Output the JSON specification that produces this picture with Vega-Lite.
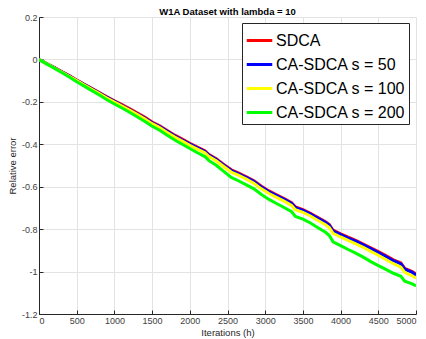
{
  "$schema": "https://vega.github.io/schema/vega-lite/v6.json",
  "width": 377,
  "height": 297,
  "autosize": {"type": "none"},
  "padding": {"left": 39, "top": 17, "right": 10, "bottom": 25},
  "background": "white",
  "title": {"text": "W1A Dataset with lambda = 10", "fontSize": 9.5, "font": "Liberation Sans", "fontWeight": "bold", "color": "#000000", "anchor": "middle", "offset": -3},
  "data": {"values": [
    {"x": 0, "SDCA": 0, "CA-SDCA s = 50": 0, "CA-SDCA s = 100": 0, "CA-SDCA s = 200": 0},
    {"x": 100, "SDCA": -0.019, "CA-SDCA s = 50": -0.019, "CA-SDCA s = 100": -0.02, "CA-SDCA s = 200": -0.021},
    {"x": 200, "SDCA": -0.037, "CA-SDCA s = 50": -0.038, "CA-SDCA s = 100": -0.039, "CA-SDCA s = 200": -0.041},
    {"x": 300, "SDCA": -0.057, "CA-SDCA s = 50": -0.058, "CA-SDCA s = 100": -0.059, "CA-SDCA s = 200": -0.062},
    {"x": 400, "SDCA": -0.076, "CA-SDCA s = 50": -0.077, "CA-SDCA s = 100": -0.079, "CA-SDCA s = 200": -0.083},
    {"x": 500, "SDCA": -0.097, "CA-SDCA s = 50": -0.099, "CA-SDCA s = 100": -0.1, "CA-SDCA s = 200": -0.105},
    {"x": 600, "SDCA": -0.117, "CA-SDCA s = 50": -0.119, "CA-SDCA s = 100": -0.121, "CA-SDCA s = 200": -0.126},
    {"x": 700, "SDCA": -0.136, "CA-SDCA s = 50": -0.139, "CA-SDCA s = 100": -0.141, "CA-SDCA s = 200": -0.147},
    {"x": 800, "SDCA": -0.156, "CA-SDCA s = 50": -0.159, "CA-SDCA s = 100": -0.161, "CA-SDCA s = 200": -0.168},
    {"x": 900, "SDCA": -0.176, "CA-SDCA s = 50": -0.179, "CA-SDCA s = 100": -0.182, "CA-SDCA s = 200": -0.19},
    {"x": 1000, "SDCA": -0.195, "CA-SDCA s = 50": -0.198, "CA-SDCA s = 100": -0.201, "CA-SDCA s = 200": -0.21},
    {"x": 1100, "SDCA": -0.213, "CA-SDCA s = 50": -0.217, "CA-SDCA s = 100": -0.22, "CA-SDCA s = 200": -0.229},
    {"x": 1200, "SDCA": -0.232, "CA-SDCA s = 50": -0.236, "CA-SDCA s = 100": -0.239, "CA-SDCA s = 200": -0.249},
    {"x": 1300, "SDCA": -0.252, "CA-SDCA s = 50": -0.256, "CA-SDCA s = 100": -0.259, "CA-SDCA s = 200": -0.27},
    {"x": 1400, "SDCA": -0.272, "CA-SDCA s = 50": -0.276, "CA-SDCA s = 100": -0.28, "CA-SDCA s = 200": -0.291},
    {"x": 1500, "SDCA": -0.295, "CA-SDCA s = 50": -0.299, "CA-SDCA s = 100": -0.303, "CA-SDCA s = 200": -0.315},
    {"x": 1600, "SDCA": -0.313, "CA-SDCA s = 50": -0.317, "CA-SDCA s = 100": -0.321, "CA-SDCA s = 200": -0.334},
    {"x": 1700, "SDCA": -0.335, "CA-SDCA s = 50": -0.339, "CA-SDCA s = 100": -0.344, "CA-SDCA s = 200": -0.357},
    {"x": 1800, "SDCA": -0.357, "CA-SDCA s = 50": -0.361, "CA-SDCA s = 100": -0.366, "CA-SDCA s = 200": -0.38},
    {"x": 1900, "SDCA": -0.376, "CA-SDCA s = 50": -0.38, "CA-SDCA s = 100": -0.385, "CA-SDCA s = 200": -0.4},
    {"x": 2000, "SDCA": -0.395, "CA-SDCA s = 50": -0.399, "CA-SDCA s = 100": -0.405, "CA-SDCA s = 200": -0.42},
    {"x": 2100, "SDCA": -0.413, "CA-SDCA s = 50": -0.417, "CA-SDCA s = 100": -0.423, "CA-SDCA s = 200": -0.44},
    {"x": 2200, "SDCA": -0.43, "CA-SDCA s = 50": -0.434, "CA-SDCA s = 100": -0.44, "CA-SDCA s = 200": -0.458},
    {"x": 2250, "SDCA": -0.447, "CA-SDCA s = 50": -0.451, "CA-SDCA s = 100": -0.457, "CA-SDCA s = 200": -0.476},
    {"x": 2350, "SDCA": -0.468, "CA-SDCA s = 50": -0.472, "CA-SDCA s = 100": -0.478, "CA-SDCA s = 200": -0.499},
    {"x": 2450, "SDCA": -0.495, "CA-SDCA s = 50": -0.499, "CA-SDCA s = 100": -0.505, "CA-SDCA s = 200": -0.528},
    {"x": 2550, "SDCA": -0.52, "CA-SDCA s = 50": -0.524, "CA-SDCA s = 100": -0.531, "CA-SDCA s = 200": -0.556},
    {"x": 2650, "SDCA": -0.536, "CA-SDCA s = 50": -0.54, "CA-SDCA s = 100": -0.547, "CA-SDCA s = 200": -0.573},
    {"x": 2750, "SDCA": -0.553, "CA-SDCA s = 50": -0.557, "CA-SDCA s = 100": -0.564, "CA-SDCA s = 200": -0.591},
    {"x": 2850, "SDCA": -0.572, "CA-SDCA s = 50": -0.576, "CA-SDCA s = 100": -0.584, "CA-SDCA s = 200": -0.61},
    {"x": 2950, "SDCA": -0.598, "CA-SDCA s = 50": -0.602, "CA-SDCA s = 100": -0.61, "CA-SDCA s = 200": -0.637},
    {"x": 3050, "SDCA": -0.62, "CA-SDCA s = 50": -0.624, "CA-SDCA s = 100": -0.632, "CA-SDCA s = 200": -0.66},
    {"x": 3150, "SDCA": -0.638, "CA-SDCA s = 50": -0.642, "CA-SDCA s = 100": -0.65, "CA-SDCA s = 200": -0.679},
    {"x": 3250, "SDCA": -0.656, "CA-SDCA s = 50": -0.66, "CA-SDCA s = 100": -0.668, "CA-SDCA s = 200": -0.698},
    {"x": 3350, "SDCA": -0.675, "CA-SDCA s = 50": -0.679, "CA-SDCA s = 100": -0.688, "CA-SDCA s = 200": -0.718},
    {"x": 3400, "SDCA": -0.695, "CA-SDCA s = 50": -0.699, "CA-SDCA s = 100": -0.708, "CA-SDCA s = 200": -0.74},
    {"x": 3500, "SDCA": -0.708, "CA-SDCA s = 50": -0.712, "CA-SDCA s = 100": -0.721, "CA-SDCA s = 200": -0.753},
    {"x": 3600, "SDCA": -0.725, "CA-SDCA s = 50": -0.729, "CA-SDCA s = 100": -0.738, "CA-SDCA s = 200": -0.771},
    {"x": 3700, "SDCA": -0.745, "CA-SDCA s = 50": -0.749, "CA-SDCA s = 100": -0.759, "CA-SDCA s = 200": -0.793},
    {"x": 3800, "SDCA": -0.765, "CA-SDCA s = 50": -0.769, "CA-SDCA s = 100": -0.779, "CA-SDCA s = 200": -0.815},
    {"x": 3850, "SDCA": -0.778, "CA-SDCA s = 50": -0.782, "CA-SDCA s = 100": -0.792, "CA-SDCA s = 200": -0.83},
    {"x": 3900, "SDCA": -0.805, "CA-SDCA s = 50": -0.809, "CA-SDCA s = 100": -0.82, "CA-SDCA s = 200": -0.86},
    {"x": 4000, "SDCA": -0.822, "CA-SDCA s = 50": -0.826, "CA-SDCA s = 100": -0.837, "CA-SDCA s = 200": -0.878},
    {"x": 4100, "SDCA": -0.838, "CA-SDCA s = 50": -0.842, "CA-SDCA s = 100": -0.853, "CA-SDCA s = 200": -0.896},
    {"x": 4200, "SDCA": -0.853, "CA-SDCA s = 50": -0.857, "CA-SDCA s = 100": -0.869, "CA-SDCA s = 200": -0.913},
    {"x": 4300, "SDCA": -0.87, "CA-SDCA s = 50": -0.874, "CA-SDCA s = 100": -0.886, "CA-SDCA s = 200": -0.932},
    {"x": 4400, "SDCA": -0.888, "CA-SDCA s = 50": -0.892, "CA-SDCA s = 100": -0.905, "CA-SDCA s = 200": -0.953},
    {"x": 4500, "SDCA": -0.906, "CA-SDCA s = 50": -0.91, "CA-SDCA s = 100": -0.923, "CA-SDCA s = 200": -0.972},
    {"x": 4600, "SDCA": -0.925, "CA-SDCA s = 50": -0.929, "CA-SDCA s = 100": -0.943, "CA-SDCA s = 200": -0.99},
    {"x": 4700, "SDCA": -0.945, "CA-SDCA s = 50": -0.949, "CA-SDCA s = 100": -0.963, "CA-SDCA s = 200": -1.008},
    {"x": 4800, "SDCA": -0.96, "CA-SDCA s = 50": -0.964, "CA-SDCA s = 100": -0.979, "CA-SDCA s = 200": -1.022},
    {"x": 4850, "SDCA": -0.985, "CA-SDCA s = 50": -0.989, "CA-SDCA s = 100": -1.004, "CA-SDCA s = 200": -1.045},
    {"x": 4950, "SDCA": -1.0, "CA-SDCA s = 50": -1.004, "CA-SDCA s = 100": -1.02, "CA-SDCA s = 200": -1.058},
    {"x": 5000, "SDCA": -1.012, "CA-SDCA s = 50": -1.017, "CA-SDCA s = 100": -1.032, "CA-SDCA s = 200": -1.068}
  ]},
  "transform": [
    {"fold": ["SDCA", "CA-SDCA s = 50", "CA-SDCA s = 100", "CA-SDCA s = 200"], "as": ["series", "value"]}
  ],
  "mark": {"type": "line", "strokeWidth": 3, "clip": true},
  "encoding": {
    "x": {
      "field": "x", "type": "quantitative",
      "scale": {"domain": [0, 5000], "nice": false},
      "axis": {"values": [0, 500, 1000, 1500, 2000, 2500, 3000, 3500, 4000, 4500, 5000], "format": "d", "title": "Iterations (h)", "labelPadding": 6, "titlePadding": 2}
    },
    "y": {
      "field": "value", "type": "quantitative",
      "scale": {"domain": [-1.2, 0.2], "nice": false, "zero": false},
      "axis": {"values": [-1.2, -1, -0.8, -0.6, -0.4, -0.2, 0, 0.2], "format": "~g", "title": "Relative error", "labelPadding": 6, "titlePadding": 4}
    },
    "color": {
      "field": "series", "type": "nominal",
      "scale": {"domain": ["SDCA", "CA-SDCA s = 50", "CA-SDCA s = 100", "CA-SDCA s = 200"], "range": ["#ff0000", "#0000ff", "#ffff00", "#00ff00"]},
      "legend": {
        "title": null, "orient": "none", "legendX": 203, "legendY": 6,
        "symbolType": "stroke", "symbolSize": 650, "symbolStrokeWidth": 3,
        "labelFontSize": 16, "labelFont": "Liberation Sans", "labelColor": "#000000", "labelOffset": 2,
        "rowPadding": 1, "padding": 3, "strokeColor": "#262626", "fillColor": "#ffffff", "labelLimit": 300
      }
    }
  },
  "config": {
    "locale": {"number": {"decimal": ".", "thousands": ",", "grouping": [3], "currency": ["$", ""], "minus": "-"}},
    "view": {"stroke": null},
    "axis": {
      "domainColor": "#262626", "domainWidth": 1,
      "tickColor": "#262626", "tickSize": -4,
      "labelColor": "#404040", "labelFont": "Liberation Sans", "labelFontSize": 9,
      "titleFont": "Liberation Sans", "titleFontSize": 9.5, "titleFontWeight": "normal", "titleColor": "#262626",
      "gridColor": "#e3e3e3", "gridWidth": 1
    }
  }
}
